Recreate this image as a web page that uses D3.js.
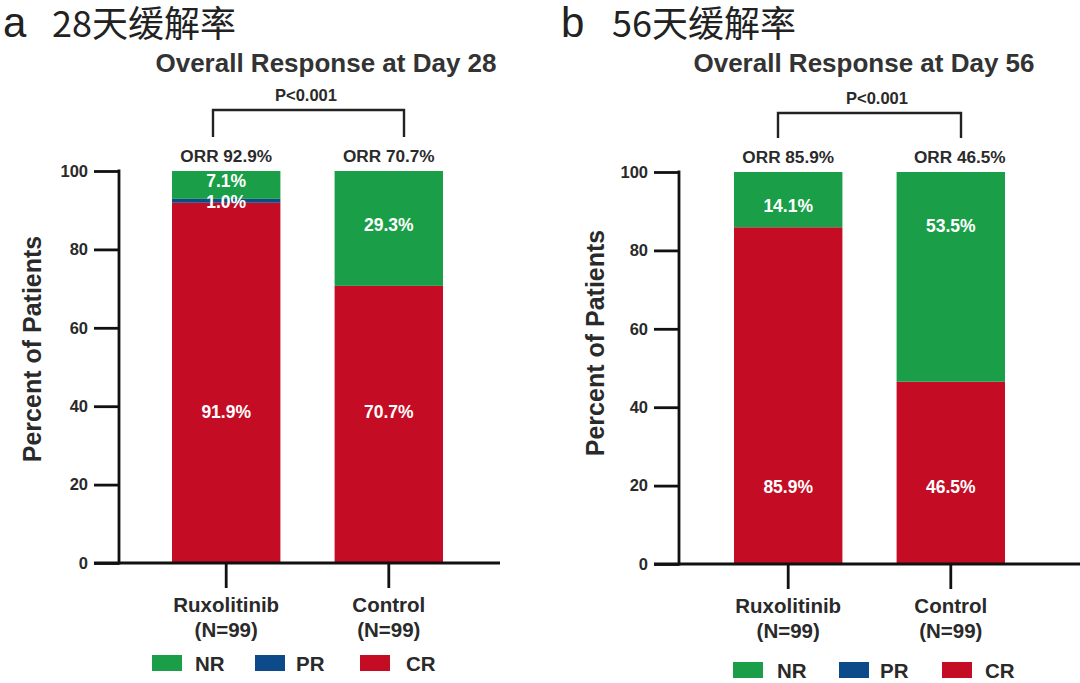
<!DOCTYPE html>
<html><head><meta charset="utf-8">
<script src="https://cdn.jsdelivr.net/npm/d3@7"></script>
<style>body{margin:0;background:#fff}svg{display:block}</style>
</head><body>
<svg id="c" width="1080" height="683"></svg>
<script>
const categories = ["Ruxolitinib", "Control"];
const categorySub = ["(N=99)", "(N=99)"];
const seriesNames = ["CR", "PR", "NR"];
const legendOrder = ["NR", "PR", "CR"];
const day28CR = [91.9, 70.7];
const day28PR = [1.0, 0.0];
const day28NR = [7.1, 29.3];
const day56CR = [85.9, 46.5];
const day56PR = [0.0, 0.0];
const day56NR = [14.1, 53.5];
const orr28 = ["ORR 92.9%", "ORR 70.7%"];
const orr56 = ["ORR 85.9%", "ORR 46.5%"];
const yTicks = [0, 20, 40, 60, 80, 100];
const colors = {NR: "#1a9f48", PR: "#0d4a8a", CR: "#c40d24"};

const svg = d3.select("#c");
const FONT = "'Liberation Sans', Arial, sans-serif";
const CJK = "'Noto Sans CJK SC', sans-serif";
const TXT = "#2a2a2a";

function panel(cfg) {
  const g = svg.append("g");
  // header
  g.append("text").attr("x", cfg.letterX).attr("y", 37).attr("font-family", FONT)
    .attr("font-size", 42).attr("fill", "#222").text(cfg.letter);
  g.append("text").attr("x", cfg.headX).attr("y", 37).attr("font-family", CJK)
    .attr("font-size", 36).attr("fill", "#222").text(cfg.head);
  g.append("text").attr("x", cfg.titleX).attr("y", 72).attr("text-anchor", "middle")
    .attr("font-family", FONT).attr("font-weight", "bold").attr("font-size", 26)
    .attr("fill", "#333").text(cfg.title);

  const y = d3.scaleLinear().domain([0, 100]).range([cfg.y0, cfg.y100]);
  const x = d3.scaleBand().domain(categories).range([cfg.barL, cfg.barR])
    .paddingInner(1/3).paddingOuter(0);

  const rows = categories.map((c, i) => ({cat: c, CR: cfg.cr[i], PR: cfg.pr[i], NR: cfg.nr[i]}));
  const stack = d3.stack().keys(seriesNames)(rows);

  g.append("g").selectAll("g").data(stack).join("g").attr("fill", d => colors[d.key])
    .selectAll("rect").data(d => d).join("rect")
    .attr("x", d => x(d.data.cat)).attr("width", x.bandwidth())
    .attr("y", d => y(d[1])).attr("height", d => Math.max(0, y(d[0]) - y(d[1])));

  // bar labels
  const lab = g.append("g").attr("font-family", FONT).attr("font-weight", "bold")
    .attr("font-size", 17.5).attr("fill", "#fff").attr("text-anchor", "middle");
  categories.forEach((c, i) => {
    const cx = x(c) + x.bandwidth() / 2;
    lab.append("text").attr("x", cx).attr("y", y(cfg.crLabelAt) + 6).text(cfg.cr[i].toFixed(1) + "%");
    const nrAt = cfg.nrLabelAt[i];
    lab.append("text").attr("x", cx).attr("y", y(nrAt) + 6).text(cfg.nr[i].toFixed(1) + "%");
    if (cfg.pr[i] > 0) {
      lab.append("text").attr("x", cx).attr("y", y(cfg.prLabelAt) + 6).text(cfg.pr[i].toFixed(1) + "%");
    }
  });

  // y axis
  const ya = g.append("g").attr("transform", `translate(${cfg.axisX},0)`)
    .call(d3.axisLeft(y).tickValues(yTicks).tickSize(25).tickPadding(6).tickFormat(d3.format("d")));
  ya.select(".domain").remove();
  ya.selectAll(".tick line").attr("stroke", "#111").attr("stroke-width", 2.8);
  ya.selectAll(".tick text").attr("font-family", FONT).attr("font-weight", "bold")
    .attr("font-size", 16.5).attr("fill", TXT);
  g.append("line").attr("x1", cfg.axisX).attr("x2", cfg.axisX)
    .attr("y1", y(100) - 1.4).attr("y2", y(0) + 1.4).attr("stroke", "#111").attr("stroke-width", 2.8);

  // x axis
  const xa = g.append("g").attr("transform", `translate(0,${cfg.y0})`)
    .call(d3.axisBottom(x).tickSize(25).tickFormat(""));
  xa.select(".domain").remove();
  xa.selectAll(".tick line").attr("stroke", "#111").attr("stroke-width", 2.8);
  g.append("line").attr("x1", cfg.axisX - 25).attr("x2", cfg.xEnd)
    .attr("y1", cfg.y0).attr("y2", cfg.y0).attr("stroke", "#111").attr("stroke-width", 2.8);

  // category labels
  const cl = g.append("g").attr("font-family", FONT).attr("font-weight", "bold")
    .attr("font-size", 20.5).attr("fill", TXT).attr("text-anchor", "middle");
  categories.forEach((c, i) => {
    const cx = x(c) + x.bandwidth() / 2;
    cl.append("text").attr("x", cx).attr("y", cfg.y0 + 49).text(c);
    cl.append("text").attr("x", cx).attr("y", cfg.y0 + 74).text(categorySub[i]);
    g.append("text").attr("x", cx + cfg.orrDx[i]).attr("y", cfg.y100 - 9).attr("text-anchor", "middle")
      .attr("font-family", FONT).attr("font-weight", "bold").attr("font-size", 17.2).attr("fill", TXT)
      .text(cfg.orr[i]);
  });

  // bracket
  g.append("path").attr("fill", "none").attr("stroke", "#222").attr("stroke-width", 2.4)
    .attr("d", `M${cfg.brL},${cfg.brBot}V${cfg.brTop}H${cfg.brR}V${cfg.brBot}`);
  g.append("text").attr("x", cfg.pX).attr("y", cfg.brTop - 9).attr("text-anchor", "middle")
    .attr("font-family", FONT).attr("font-weight", "bold").attr("font-size", 16.5).attr("fill", TXT)
    .text("P<0.001");

  // y title
  g.append("text").attr("transform", `translate(${cfg.ytX},${cfg.ytY}) rotate(-90)`)
    .attr("text-anchor", "middle").attr("font-family", FONT).attr("font-weight", "bold")
    .attr("font-size", 25).attr("fill", TXT).text("Percent of Patients");

  // legend
  const lg = g.append("g").attr("font-family", FONT).attr("font-weight", "bold")
    .attr("font-size", 20.5).attr("fill", TXT);
  legendOrder.forEach((k, i) => {
    const lx = cfg.legX[i];
    lg.append("rect").attr("x", lx).attr("y", cfg.legY - 8).attr("width", 30).attr("height", 16)
      .attr("fill", colors[k]);
    lg.append("text").attr("x", lx + cfg.legTextDx[i]).attr("y", cfg.legY + 7.5).text(k);
  });
}

panel({
  letter: "a", letterX: 3, head: "28天缓解率", headX: 52,
  title: "Overall Response at Day 28", titleX: 326,
  cr: day28CR, pr: day28PR, nr: day28NR, orr: orr28, orrDx: [0, 0],
  y0: 563, y100: 171, axisX: 119, barL: 172, barR: 443, xEnd: 500,
  crLabelAt: 38.6, prLabelAt: 92.2, nrLabelAt: [97.5, 86.2],
  brL: 213, brR: 404, brTop: 110, brBot: 137, pX: 306, ytX: 41, ytY: 349,
  legX: [152, 255, 360], legTextDx: [43, 41, 46], legY: 663
});
panel({
  letter: "b", letterX: 561, head: "56天缓解率", headX: 612,
  title: "Overall Response at Day 56", titleX: 864,
  cr: day56CR, pr: day56PR, nr: day56NR, orr: orr56, orrDx: [0, 9],
  y0: 564, y100: 172, axisX: 679, barL: 734, barR: 1005, xEnd: 1080,
  crLabelAt: 19.7, prLabelAt: 92, nrLabelAt: [91.2, 86.2],
  brL: 778, brR: 961, brTop: 113, brBot: 138, pX: 877, ytX: 604, ytY: 343,
  legX: [733, 839, 942], legTextDx: [44, 41, 43], legY: 670
});
</script>
</body></html>
